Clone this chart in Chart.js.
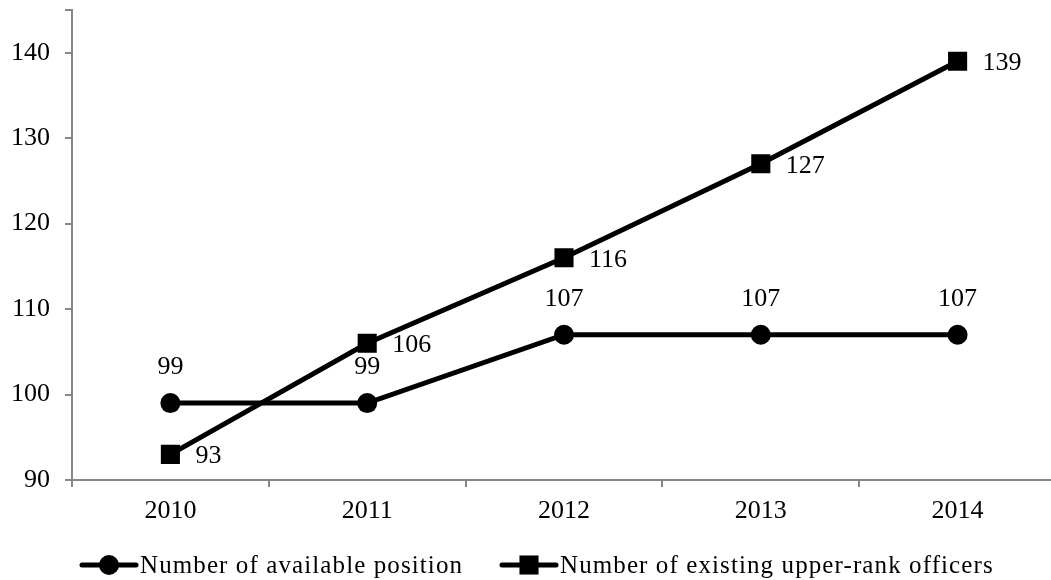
<!DOCTYPE html>
<html>
<head>
<meta charset="utf-8">
<script src="https://cdn.jsdelivr.net/npm/chart.js@4.4.0/dist/chart.umd.min.js"></script>
<style>
  html, body { margin: 0; padding: 0; background: #fff; overflow: hidden; }
  #wrap { width: 1056px; height: 580px; }
</style>
</head>
<body>
<div id="wrap"><canvas id="chart"></canvas></div>
<script>
// Officers vs. available positions, 2010-2014
const years = ['2010', '2011', '2012', '2013', '2014'];
const availablePositions = [99, 99, 107, 107, 107];
const upperRankOfficers = [93, 106, 116, 127, 139];
const seriesNames = ['Number of available position', 'Number of existing upper-rank officers'];

const FONT = '"Liberation Serif", "Times New Roman", serif';
const AXIS_GRAY = '#878787';

// value labels: above for the circles, to the right for the squares
const valueLabels = {
    id: 'valueLabels',
    afterDatasetsDraw(chart) {
        const ctx = chart.ctx;
        ctx.save();
        ctx.letterSpacing = '0px';
        ctx.font = '26px ' + FONT;
        ctx.fillStyle = '#000';
        ctx.textBaseline = 'middle';
        chart.data.datasets.forEach((ds, i) => {
            const meta = chart.getDatasetMeta(i);
            meta.data.forEach((pt, j) => {
                if (i === 0) {
                    ctx.textAlign = 'center';
                    ctx.fillText(ds.data[j], pt.x, pt.y - 36);
                } else {
                    ctx.textAlign = 'left';
                    ctx.fillText(ds.data[j], pt.x + 25, pt.y + 2);
                }
            });
        });
        ctx.restore();
    }
};

// legend drawn as line + marker like the series themselves
const lineLegend = {
    id: 'lineLegend',
    afterDraw(chart) {
        const ctx = chart.ctx;
        const y = 565;
        const items = [
            { x: 82, style: 'circle', r: 10 },
            { x: 502, style: 'rect', r: 13.5 }
        ];
        ctx.save();
        ctx.font = '25px ' + FONT;
        ctx.letterSpacing = '1.1px';
        ctx.textBaseline = 'middle';
        ctx.textAlign = 'left';
        items.forEach((it, i) => {
            ctx.strokeStyle = '#000';
            ctx.lineWidth = 5;
            ctx.lineCap = 'round';
            ctx.beginPath();
            ctx.moveTo(it.x, y);
            ctx.lineTo(it.x + 54, y);
            ctx.stroke();
            ctx.fillStyle = '#000';
            Chart.helpers.drawPoint(ctx, { pointStyle: it.style, radius: it.r, rotation: 0, borderWidth: 0 }, it.x + 27, y);
            ctx.fillStyle = '#000';
            ctx.fillText(seriesNames[i], it.x + 58, y + 1);
        });
        ctx.letterSpacing = '0px';
        ctx.restore();
    }
};

new Chart(document.getElementById('chart'), {
    type: 'line',
    data: {
        labels: years,
        datasets: [
            {
                label: seriesNames[0],
                data: availablePositions,
                borderColor: '#000',
                backgroundColor: '#000',
                borderWidth: 5,
                pointStyle: 'circle',
                pointRadius: 10,
                pointBorderWidth: 0,
                tension: 0
            },
            {
                label: seriesNames[1],
                data: upperRankOfficers,
                borderColor: '#000',
                backgroundColor: '#000',
                borderWidth: 5,
                pointStyle: 'rect',
                pointRadius: 13.5,
                pointBorderWidth: 0,
                tension: 0
            }
        ]
    },
    options: {
        responsive: true,
        maintainAspectRatio: false,
        animation: false,
        layout: { autoPadding: false, padding: { top: 10, right: 0, bottom: 0, left: 0 } },
        plugins: {
            legend: { display: false },
            tooltip: { enabled: false }
        },
        scales: {
            x: {
                offset: true,
                grid: {
                    offset: true,
                    drawOnChartArea: false,
                    drawTicks: true,
                    tickLength: 7,
                    color: AXIS_GRAY,
                    lineWidth: 2
                },
                border: { color: AXIS_GRAY, width: 2 },
                ticks: {
                    color: '#000',
                    font: { family: FONT, size: 26 },
                    padding: 9
                },
                afterFit(scale) {
                    scale.height = 100;
                    scale.paddingLeft = 0;
                    scale.paddingRight = 0;
                }
            },
            y: {
                min: 90,
                max: 145,
                grid: {
                    drawOnChartArea: false,
                    drawTicks: true,
                    tickLength: 7,
                    color: AXIS_GRAY,
                    lineWidth: 2
                },
                border: { color: AXIS_GRAY, width: 2 },
                ticks: {
                    stepSize: 10,
                    color: '#000',
                    font: { family: FONT, size: 26 },
                    padding: 15,
                    callback: v => (v % 10 === 0 ? v : '')
                },
                afterFit(scale) {
                    scale.width = 72;
                    scale.paddingTop = 0;
                    scale.paddingBottom = 0;
                }
            }
        }
    },
    plugins: [valueLabels, lineLegend]
});
</script>
</body>
</html>
